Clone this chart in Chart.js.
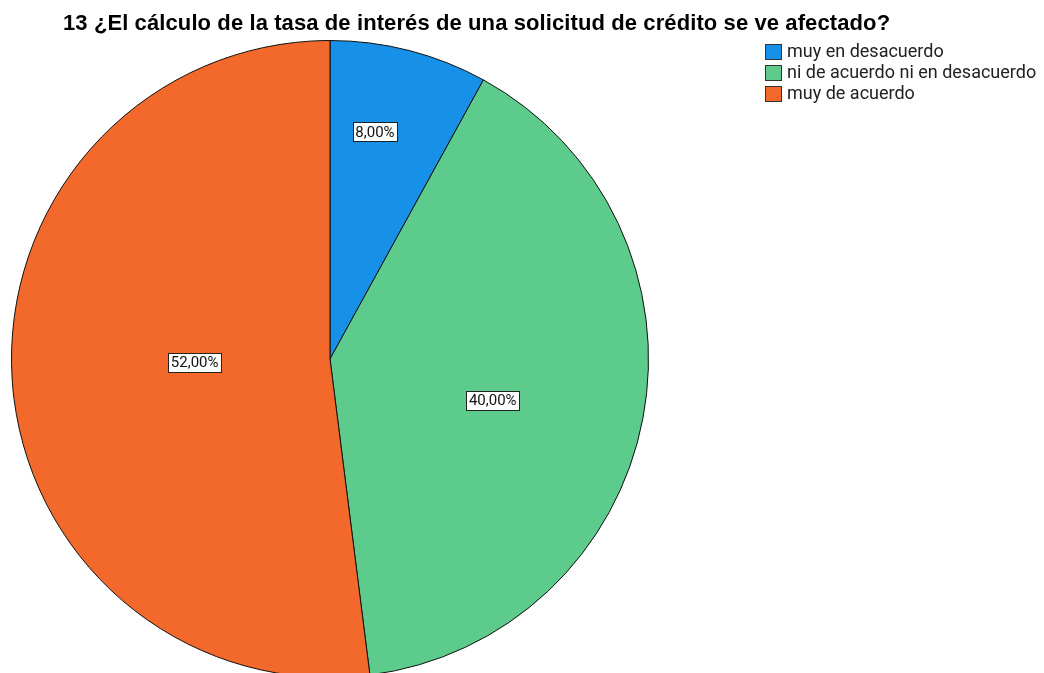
<!DOCTYPE html>
<html>
<head>
<meta charset="utf-8">
<script src="https://cdn.jsdelivr.net/npm/chart.js@4"></script>
<style>
  html, body { margin: 0; padding: 0; background: #fff; overflow: hidden; width: 1044px; height: 673px; }
  #wrap { position: absolute; left: 0; top: 0; width: 1044px; height: 700px; }
  #title { position: absolute; left: 63px; top: 12px; font: bold 22px/22px "Liberation Sans", Arial, sans-serif; letter-spacing: 0.1px; color: #000; white-space: nowrap; }
  #legend { position: absolute; left: 765px; top: 40px; font: 18px/21px Roboto, sans-serif; color: #222; }
  #legend div { height: 21px; white-space: nowrap; }
  #legend span { display: inline-block; width: 17px; height: 16px; border: 1px solid #333; box-sizing: border-box; vertical-align: -3px; margin-right: 5px; }
</style>
</head>
<body>
<div id="wrap"><canvas id="pieChart" width="1044" height="700"></canvas></div>
<div id="title"></div>
<div id="legend"></div>
<script>
const chartTitle = '13 ¿El cálculo de la tasa de interés de una solicitud de crédito se ve afectado?';
const categories = ['muy en desacuerdo', 'ni de acuerdo ni en desacuerdo', 'muy de acuerdo'];
const percentages = [8, 40, 52];
const sliceColors = ['#1790e8', '#5ccb8c', '#f2692b'];

// where the % boxes sit inside each slice (angle shift in degrees, fraction of radius)
const labelPlacement = [
  { shift: -3.2, r: 0.727 },
  { shift: 3.4, r: 0.527 },
  { shift: 2.3, r: 0.425 }
];

document.getElementById('title').textContent = chartTitle;
const legendBox = document.getElementById('legend');
categories.forEach((c, i) => {
  const row = document.createElement('div');
  const sw = document.createElement('span');
  sw.style.background = sliceColors[i];
  row.appendChild(sw);
  row.appendChild(document.createTextNode(c));
  legendBox.appendChild(row);
});

const boxLabels = {
  id: 'boxLabels',
  afterDatasetsDraw(chart) {
    const c = chart.ctx;
    const meta = chart.getDatasetMeta(0);
    c.save();
    c.font = '15px Roboto, sans-serif';
    c.textAlign = 'center';
    c.textBaseline = 'middle';
    meta.data.forEach((arc, i) => {
      const p = arc.getProps(['x', 'y', 'startAngle', 'endAngle', 'outerRadius']);
      const a = (p.startAngle + p.endAngle) / 2 + labelPlacement[i].shift * Math.PI / 180;
      const r = p.outerRadius * labelPlacement[i].r;
      const x = p.x + Math.cos(a) * r;
      const y = p.y + Math.sin(a) * r;
      const txt = percentages[i].toFixed(2).replace('.', ',') + '%';
      const w = Math.round(c.measureText(txt).width + 5);
      const h = 19;
      const bx = Math.round(x - w / 2) + 0.5, by = Math.round(y - h / 2) + 0.5;
      c.fillStyle = '#fff';
      c.fillRect(bx, by, w, h);
      c.strokeStyle = '#222';
      c.lineWidth = 1;
      c.strokeRect(bx, by, w, h);
      c.fillStyle = '#111';
      c.fillText(txt, x, y + 1);
    });
    c.restore();
  }
};

new Chart(document.getElementById('pieChart'), {
  type: 'pie',
  data: {
    labels: categories,
    datasets: [{
      data: percentages,
      backgroundColor: sliceColors,
      borderColor: '#111',
      borderWidth: 1
    }]
  },
  options: {
    responsive: false,
    animation: false,
    layout: { padding: { left: 11, right: 395, top: 40, bottom: 22 } },
    plugins: {
      legend: { display: false },
      title: { display: false },
      tooltip: { enabled: false }
    }
  },
  plugins: [boxLabels]
});
</script>
</body>
</html>
